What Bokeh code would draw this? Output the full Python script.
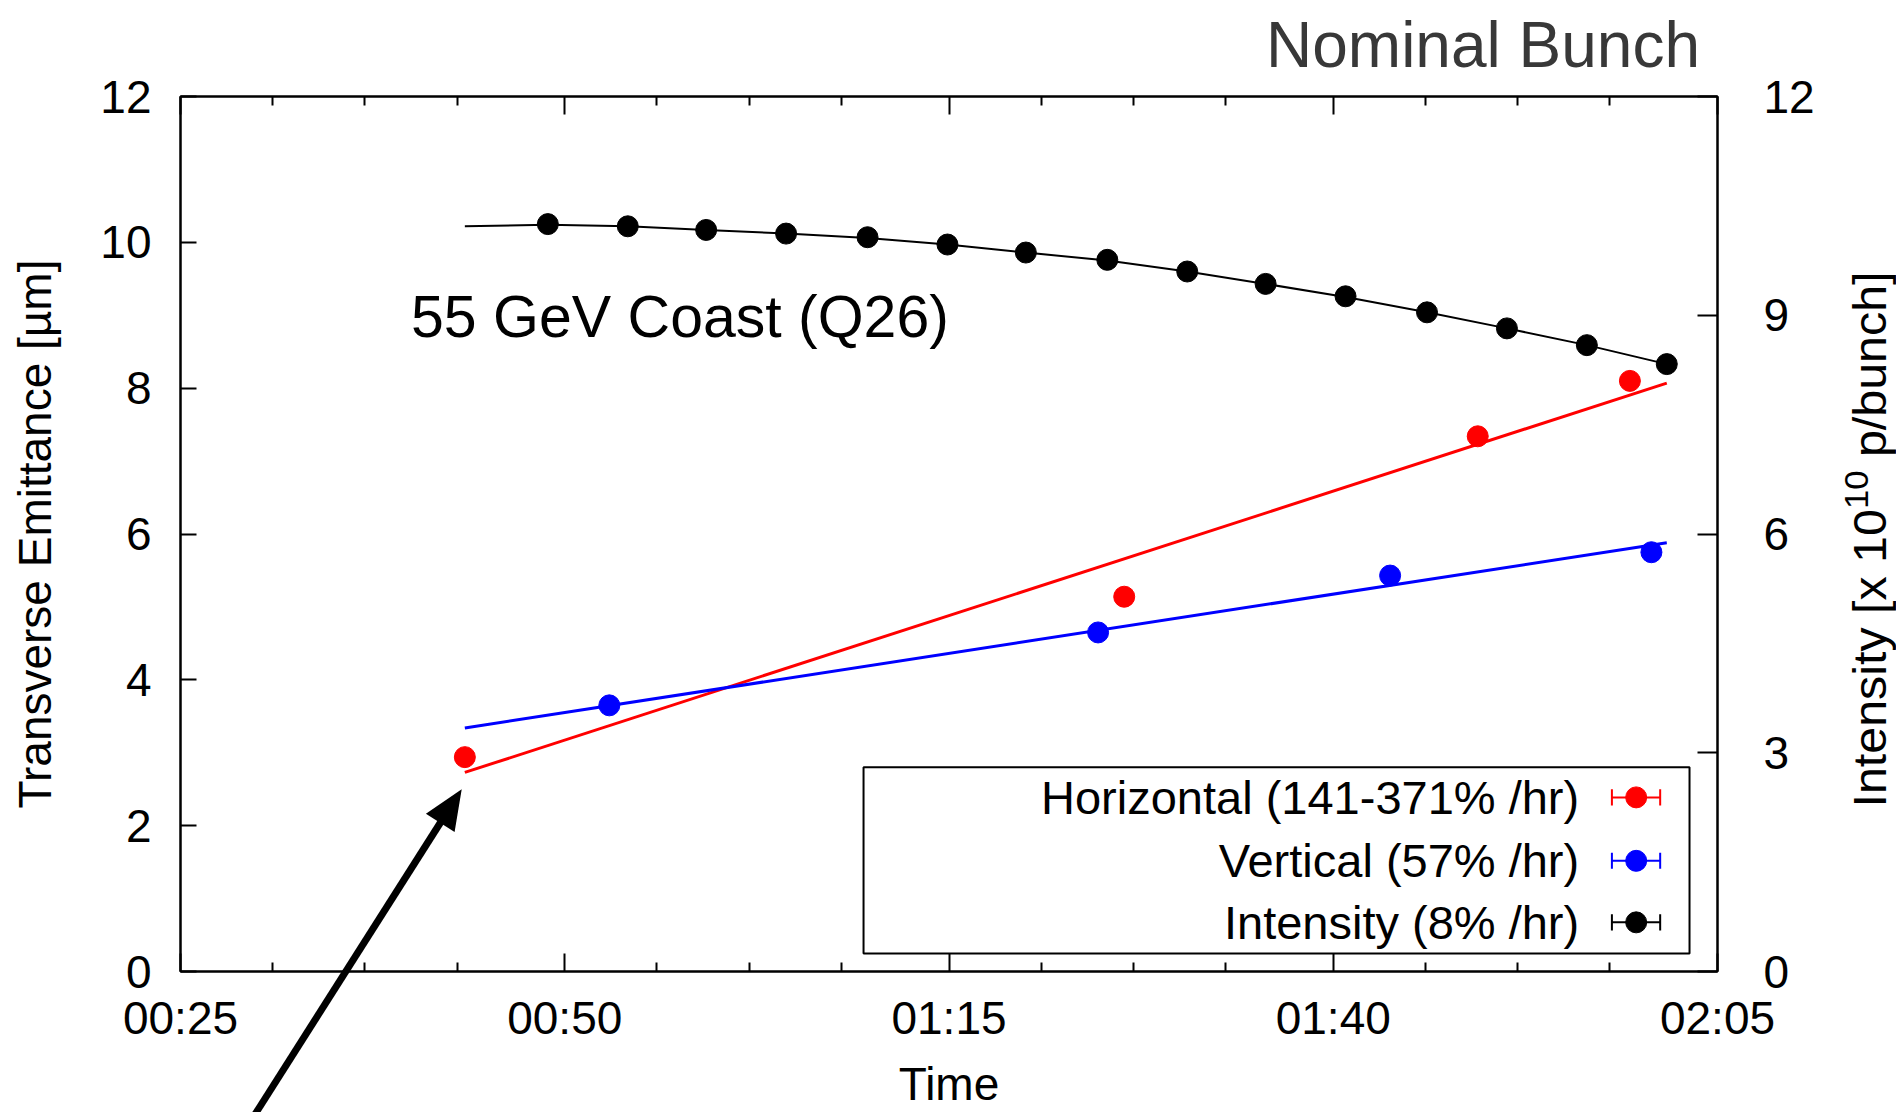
import math
from bokeh.plotting import figure
from bokeh.layouts import column
from bokeh.models import (Range1d, LinearAxis, FixedTicker, Label, Div,
                          BoxAnnotation, ColumnDataSource)
from bokeh.embed import file_html
from bokeh.resources import INLINE

# ---------------- data (time in minutes after 00:00) ----------------
x_tick_values = [25, 50, 75, 100, 125]
x_tick_labels = ["00:25", "00:50", "01:15", "01:40", "02:05"]
x_minor_ticks = [31, 37, 43, 56, 62, 68, 81, 87, 93, 106, 112, 118]
y_left_ticks = [0, 2, 4, 6, 8, 10, 12]
y_right_ticks = [0, 3, 6, 9, 12]

int_time = [48.9, 54.1, 59.2, 64.4, 69.7, 74.9, 80.0, 85.3, 90.5, 95.6, 100.8, 106.1, 111.3, 116.5, 121.7]
int_value = [10.25, 10.22, 10.17, 10.12, 10.07, 9.97, 9.86, 9.76, 9.60, 9.43, 9.26, 9.04, 8.82, 8.59, 8.33]
int_fit_time = [43.5, 48.9, 54.1, 59.2, 64.4, 69.7, 74.9, 80.0, 85.3, 90.5, 95.6, 100.8, 106.1, 111.3, 116.5, 121.7]
int_fit_value = [10.22, 10.24, 10.22, 10.17, 10.12, 10.06, 9.97, 9.86, 9.75, 9.60, 9.43, 9.25, 9.04, 8.82, 8.59, 8.33]

hor_time = [43.5, 86.4, 109.4, 119.3]
hor_value = [2.94, 5.14, 7.34, 8.10]
hor_fit_time = [43.5, 121.7]
hor_fit_value = [2.73, 8.07]

ver_time = [52.9, 84.7, 103.7, 120.7]
ver_value = [3.65, 4.65, 5.43, 5.75]
ver_fit_time = [43.5, 121.7]
ver_fit_value = [3.34, 5.88]

legend_labels = ["Horizontal (141-371% /hr)", "Vertical (57% /hr)", "Intensity (8% /hr)"]
legend_colors = ["#ff0000", "#0000ff", "#000000"]

title_text = "Nominal Bunch"
right_label_parts = ("Intensity [x 10", "10", " p/bunch]")

# arrow pointing at the first horizontal point (data coordinates)
arrow_tail = (28.54, -2.2)
arrow_tip = (42.97, 2.58)

FONT = "Liberation Sans"
X0, X1, Y0, Y1 = 25, 125, 0, 12

p = figure(width=1896, height=1112, output_backend="svg", toolbar_location=None,
           x_range=Range1d(X0, X1), y_range=Range1d(Y0, Y1),
           min_border_left=180, min_border_right=179, min_border_top=96, min_border_bottom=140,
           x_axis_label="Time", y_axis_label="Transverse Emittance [\u00b5m]")
p.extra_y_ranges = {"intensity": Range1d(0, 12)}
p.grid.visible = False
p.background_fill_color = "white"
p.border_fill_color = "white"
p.outline_line_color = "black"
p.outline_line_width = 2

xt = FixedTicker(ticks=x_tick_values, minor_ticks=x_minor_ticks)

def style_axis(ax, tick_len, standoff):
    ax.axis_line_color = "black"
    ax.axis_line_width = 2
    ax.major_tick_line_color = "black"
    ax.major_tick_line_width = 2
    ax.major_tick_in = tick_len
    ax.major_tick_out = 0
    ax.minor_tick_line_color = "black"
    ax.minor_tick_line_width = 2
    ax.minor_tick_in = 9
    ax.minor_tick_out = 0
    ax.major_label_text_font = FONT
    ax.major_label_text_font_size = "46px"
    ax.major_label_text_color = "black"
    ax.major_label_text_line_height = 1.0
    ax.major_label_standoff = standoff
    ax.axis_label_text_font = FONT
    ax.axis_label_text_font_size = "46px"
    ax.axis_label_text_font_style = "normal"
    ax.axis_label_text_color = "black"
    ax.axis_label_text_line_height = 1.0

xa = p.xaxis[0]
xa.ticker = xt
xa.major_label_overrides = {v: s for v, s in zip(x_tick_values, x_tick_labels)}
style_axis(xa, 18, 20)
xa.axis_label_standoff = 11

ya = p.yaxis[0]
ya.ticker = FixedTicker(ticks=y_left_ticks)
style_axis(ya, 16, 29)
ya.minor_tick_line_color = None
ya.axis_label_standoff = 36

top = LinearAxis(ticker=xt)
style_axis(top, 18, 0)
top.major_label_text_font_size = "1px"
top.major_label_text_alpha = 0
top.major_label_overrides = {v: "" for v in x_tick_values}
p.add_layout(top, "above")

ra = LinearAxis(y_range_name="intensity", ticker=FixedTicker(ticks=y_right_ticks))
style_axis(ra, 20, 46)
ra.minor_tick_line_color = None
p.add_layout(ra, "right")

# ---------------- legend box (drawn beneath glyphs) ----------------
p.add_layout(BoxAnnotation(left=69.44, right=123.18, top=2.80, bottom=0.247,
                           fill_color="white", fill_alpha=1.0,
                           line_color="black", line_alpha=1.0, line_width=2,
                           level="underlay"))

# ---------------- data glyphs ----------------
p.line(int_fit_time, int_fit_value, line_color="black", line_width=2, y_range_name="intensity")
p.scatter(int_time, int_value, size=21, color="black", y_range_name="intensity")

p.line(hor_fit_time, hor_fit_value, line_color="#ff0000", line_width=3)
p.scatter(hor_time, hor_value, size=21, color="#ff0000")

p.line(ver_fit_time, ver_fit_value, line_color="#0000ff", line_width=3)
p.scatter(ver_time, ver_value, size=21, color="#0000ff")

# ---------------- manual legend (text left, symbol right) ----------------
leg_rows = [2.388, 1.518, 0.674]
leg_x0, leg_x1, leg_xc, leg_text_x, cap_h = 118.13, 121.27, 119.71, 116.0, 0.11
src = ColumnDataSource(dict(
    x0=[leg_x0] * 3, x1=[leg_x1] * 3, y=leg_rows,
    cy0=[r - cap_h for r in leg_rows], cy1=[r + cap_h for r in leg_rows],
    xc=[leg_xc] * 3, color=legend_colors))
p.segment(x0="x0", y0="y", x1="x1", y1="y", line_color="color", line_width=2, source=src)
p.segment(x0="x0", y0="cy0", x1="x0", y1="cy1", line_color="color", line_width=2, source=src)
p.segment(x0="x1", y0="cy0", x1="x1", y1="cy1", line_color="color", line_width=2, source=src)
p.scatter(x="xc", y="y", size=21, color="color", source=src)
for lab, yc in zip(legend_labels, leg_rows):
    p.add_layout(Label(x=leg_text_x, y=yc, text=lab, text_align="right",
                       text_baseline="middle", text_font=FONT,
                       text_font_size="47px", text_color="black"))

# ---------------- annotations ----------------
p.add_layout(Label(x=40.0, y=8.975, text="55 GeV Coast (Q26)", text_font=FONT,
                   text_font_size="59px", text_color="black", text_baseline="middle"))

# Items that lie outside the plot frame (where Bokeh clips annotations): the arrow,
# the corner title and the right axis title (which reads bottom-to-top).
FL, FR, FT, FB = 180.5, 1717.3, 96.5, 972.5
def sx(t):
    return FL + (t - X0) / (X1 - X0) * (FR - FL)
def sy(v):
    return FB - (v - Y0) / (Y1 - Y0) * (FB - FT)
tx, ty = sx(arrow_tip[0]), sy(arrow_tip[1])
bx, by = sx(arrow_tail[0]), sy(arrow_tail[1])
L = math.hypot(tx - bx, ty - by)
ux, uy = (tx - bx) / L, (ty - by) / L
hl, hw = 40.0, 17.0
hx, hy = tx - ux * hl, ty - uy * hl
px_, py_ = -uy, ux
head = f"{tx:.1f},{ty:.1f} {hx + px_ * hw:.1f},{hy + py_ * hw:.1f} {hx - px_ * hw:.1f},{hy - py_ * hw:.1f}"
r1, r2, r3 = right_label_parts
ymid = (FT + FB) / 2
svg = (f'<svg xmlns="http://www.w3.org/2000/svg" width="1896" height="1112" '
       f'style="display:block">'
       f'<line x1="{bx:.1f}" y1="{by:.1f}" x2="{hx + ux * 4:.1f}" y2="{hy + uy * 4:.1f}" '
       f'stroke="black" stroke-width="7"/>'
       f'<polygon points="{head}" fill="black"/>'
       f'<text x="1695" y="62" text-anchor="end" font-family="Lato" font-size="64px" '
       f'fill="#383838">{title_text}</text>'
       f'<text transform="translate(1881,{ymid:.1f}) rotate(-90)" x="0" y="0" text-anchor="middle" '
       f'font-family="{FONT}" font-size="46px" fill="black" textLength="536" '
       f'lengthAdjust="spacingAndGlyphs">{r1}<tspan dy="-18" font-size="33px">{r2}</tspan>'
       f'<tspan dy="18">{r3}</tspan></text>'
       f'</svg>')
overlay = Div(text=svg, width=1896, height=1112,
              styles={"position": "absolute", "left": "0px", "top": "0px",
                      "pointer-events": "none", "z-index": "10"})

root = column(p, overlay, spacing=0)
open("out.html", "w").write(file_html(root, INLINE))
